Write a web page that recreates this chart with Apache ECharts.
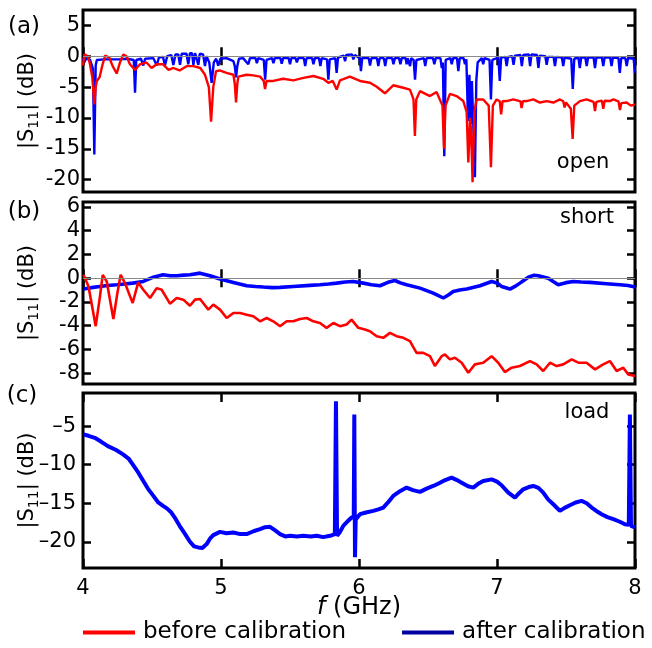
<!DOCTYPE html>
<html><head><meta charset="utf-8">
<script src="https://cdn.jsdelivr.net/npm/echarts@6/dist/echarts.min.js"></script>
<style>html,body{margin:0;padding:0;background:#fff}#c{width:652px;height:648px}</style>
</head><body><div id="c"></div>
<script>
// ---- tick values ----
const xTicks = [4, 5, 6, 7, 8];
const yTicksA = [-20, -15, -10, -5, 0, 5];
const yTicksB = [-8, -6, -4, -2, 0, 2, 4, 6];
const yTicksC = [-20, -15, -10, -5];
const seriesNames = ['before calibration', 'after calibration'];
const panelLabels = ['(a)', '(b)', '(c)'];
const standardNames = ['open', 'short', 'load'];

// ---- (a) open: [f GHz, |S11| dB] ----
const openBefore = [[4.000,-1.5],[4.010,0.3],[4.020,0.6],[4.035,0.0],[4.050,-1.2],[4.068,-3.5],[4.082,-7.8],[4.092,-5.0],[4.100,-4.0],[4.120,-3.4],[4.140,-1.5],[4.160,0.1],[4.190,-0.2],[4.215,-1.6],[4.244,-2.8],[4.268,-1.0],[4.292,0.3],[4.315,0.0],[4.340,-1.3],[4.377,-2.2],[4.413,-1.3],[4.460,-1.0],[4.497,-1.9],[4.533,-1.3],[4.580,-1.3],[4.620,-2.2],[4.655,-1.9],[4.700,-2.3],[4.750,-1.6],[4.800,-1.6],[4.850,-1.9],[4.884,-3.0],[4.912,-5.0],[4.928,-10.6],[4.944,-5.0],[4.964,-2.4],[4.990,-2.3],[5.040,-2.7],[5.090,-3.0],[5.100,-4.5],[5.109,-7.5],[5.118,-4.5],[5.126,-3.3],[5.186,-3.0],[5.234,-3.1],[5.283,-3.3],[5.310,-4.0],[5.319,-5.3],[5.330,-4.0],[5.343,-3.8],[5.380,-4.0],[5.450,-3.65],[5.524,-3.9],[5.597,-3.5],[5.670,-3.2],[5.740,-3.65],[5.778,-4.3],[5.810,-4.0],[5.838,-5.4],[5.862,-3.9],[5.934,-3.3],[6.007,-4.0],[6.080,-4.3],[6.128,-4.95],[6.188,-6.0],[6.248,-4.7],[6.320,-5.1],[6.369,-5.4],[6.395,-7.0],[6.405,-12.9],[6.415,-7.0],[6.442,-5.65],[6.514,-6.45],[6.562,-5.8],[6.605,-8.0],[6.616,-15.0],[6.627,-8.0],[6.659,-6.1],[6.707,-6.45],[6.756,-7.26],[6.780,-9.0],[6.792,-17.2],[6.805,-10.0],[6.812,-12.0],[6.823,-20.4],[6.836,-9.0],[6.852,-7.0],[6.900,-7.0],[6.940,-8.0],[6.956,-18.0],[6.970,-8.0],[6.997,-7.0],[7.020,-7.3],[7.030,-9.4],[7.040,-7.3],[7.070,-7.26],[7.118,-7.0],[7.170,-7.3],[7.178,-8.4],[7.188,-7.3],[7.215,-7.26],[7.263,-7.0],[7.311,-7.5],[7.360,-7.26],[7.408,-7.5],[7.456,-7.0],[7.480,-7.3],[7.490,-8.3],[7.500,-7.5],[7.535,-8.5],[7.548,-13.4],[7.560,-8.0],[7.601,-7.26],[7.649,-7.0],[7.700,-7.4],[7.710,-8.9],[7.720,-7.4],[7.760,-7.2],[7.770,-8.5],[7.780,-7.2],[7.818,-7.26],[7.843,-7.0],[7.880,-7.3],[7.891,-8.7],[7.900,-7.6],[7.939,-7.5],[7.970,-8.0],[8.000,-7.8]];
const openAfter = [[4.000,-0.3],[4.010,-1.0],[4.020,-0.4],[4.050,-0.5],[4.072,-2.0],[4.082,-15.9],[4.092,-1.5],[4.100,-0.6],[4.150,-0.5],[4.200,-0.5],[4.260,-0.5],[4.320,-0.4],[4.368,-0.6],[4.377,-5.9],[4.386,-0.6],[4.420,-0.4],[4.437,-1.5],[4.450,-0.4],[4.510,-0.3],[4.534,-1.5],[4.550,-0.2],[4.580,-0.1],[4.594,-1.5],[4.610,0.0],[4.640,0.2],[4.655,-1.4],[4.670,0.3],[4.690,0.3],[4.703,-1.4],[4.715,0.4],[4.750,0.4],[4.763,-1.3],[4.775,0.5],[4.790,0.5],[4.800,-1.4],[4.812,0.5],[4.826,0.5],[4.836,-1.4],[4.846,0.4],[4.870,0.3],[4.884,-1.6],[4.895,0.0],[4.915,-1.0],[4.932,-4.3],[4.948,-1.0],[4.965,-0.4],[4.980,-1.5],[4.995,-0.4],[5.040,-0.3],[5.090,-0.8],[5.100,-1.6],[5.109,-3.4],[5.118,-1.6],[5.130,-0.4],[5.160,-0.3],[5.198,-1.3],[5.210,-0.3],[5.250,-0.3],[5.260,-1.1],[5.270,-0.3],[5.310,-0.6],[5.320,-3.8],[5.330,-0.6],[5.370,-0.3],[5.380,-1.1],[5.390,-0.3],[5.430,-0.3],[5.440,-1.2],[5.450,-0.3],[5.490,-0.3],[5.500,-1.3],[5.510,-0.3],[5.540,-0.3],[5.550,-1.0],[5.560,-0.3],[5.600,-0.3],[5.610,-1.6],[5.620,-0.3],[5.660,-0.3],[5.670,-1.3],[5.680,-0.3],[5.710,-0.3],[5.720,-1.6],[5.730,-0.3],[5.768,-0.5],[5.778,-3.8],[5.788,-0.5],[5.828,-0.3],[5.838,-2.7],[5.848,-0.2],[5.890,0.1],[5.899,-0.8],[5.908,0.2],[5.950,0.3],[5.959,-0.5],[5.970,0.2],[6.005,-0.3],[6.014,-2.4],[6.023,-0.3],[6.070,-0.3],[6.080,-1.5],[6.090,-0.3],[6.130,-0.3],[6.140,-1.6],[6.150,-0.3],[6.180,-0.3],[6.190,-1.6],[6.200,-0.3],[6.240,-0.3],[6.250,-1.3],[6.260,-0.3],[6.290,-0.3],[6.300,-1.3],[6.310,-0.3],[6.338,-0.3],[6.345,-1.3],[6.352,-0.3],[6.363,-0.3],[6.370,-1.6],[6.378,-0.3],[6.396,-0.6],[6.406,-3.8],[6.416,-0.6],[6.470,-0.3],[6.480,-1.6],[6.490,-0.3],[6.536,-0.3],[6.546,-1.3],[6.556,-0.3],[6.590,-0.3],[6.600,-1.9],[6.608,-1.0],[6.618,-16.2],[6.628,-0.6],[6.662,-0.3],[6.672,-1.3],[6.682,-0.3],[6.710,-0.3],[6.720,-2.4],[6.730,-0.3],[6.758,-0.3],[6.768,-1.3],[6.778,-0.5],[6.790,-10.5],[6.800,-3.0],[6.810,-11.0],[6.818,-4.0],[6.828,-11.0],[6.840,-19.6],[6.850,-4.0],[6.860,-1.0],[6.890,-0.3],[6.900,-1.3],[6.910,-0.3],[6.946,-0.6],[6.956,-7.0],[6.966,-0.6],[7.010,-0.2],[7.020,-4.0],[7.030,-0.2],[7.060,-0.1],[7.070,-1.6],[7.080,-0.1],[7.110,0.0],[7.120,-1.4],[7.130,0.1],[7.170,0.2],[7.180,-1.6],[7.190,0.2],[7.230,0.3],[7.240,-1.6],[7.250,0.3],[7.290,0.2],[7.300,-1.9],[7.310,0.1],[7.350,0.0],[7.360,-1.4],[7.370,-0.1],[7.410,-0.1],[7.420,-1.6],[7.430,-0.1],[7.470,-0.2],[7.480,-1.6],[7.490,-0.2],[7.538,-0.4],[7.549,-5.3],[7.560,-0.4],[7.590,-0.2],[7.600,-1.9],[7.610,-0.2],[7.640,-0.2],[7.650,-1.6],[7.660,-0.2],[7.700,-0.2],[7.710,-1.9],[7.720,-0.2],[7.760,-0.2],[7.770,-1.6],[7.780,-0.2],[7.820,-0.2],[7.830,-1.6],[7.840,-0.2],[7.880,-0.3],[7.890,-2.7],[7.900,-0.3],[7.930,-0.3],[7.940,-1.6],[7.950,-0.3],[7.990,-0.4],[8.000,-2.7]];

// ---- (b) short ----
const shortBefore = [[4.004,0.28],[4.040,-0.7],[4.092,-4.04],[4.123,-1.53],[4.143,0.28],[4.172,-0.28],[4.220,-3.43],[4.249,-1.26],[4.273,0.28],[4.304,-0.42],[4.360,-2.09],[4.400,-0.36],[4.437,-0.98],[4.486,-1.67],[4.534,-0.84],[4.570,-0.98],[4.630,-2.15],[4.679,-1.67],[4.727,-1.81],[4.775,-2.32],[4.812,-1.81],[4.848,-1.76],[4.908,-2.65],[4.944,-2.23],[4.993,-2.65],[5.041,-3.35],[5.090,-2.93],[5.138,-2.93],[5.186,-3.07],[5.234,-3.21],[5.283,-3.63],[5.331,-3.35],[5.379,-3.63],[5.428,-4.04],[5.476,-3.63],[5.524,-3.63],[5.572,-3.43],[5.621,-3.35],[5.669,-3.63],[5.717,-3.77],[5.765,-4.18],[5.814,-3.77],[5.862,-4.04],[5.910,-3.9],[5.946,-3.49],[5.995,-4.18],[6.043,-4.32],[6.079,-4.46],[6.128,-4.88],[6.176,-5.02],[6.224,-4.6],[6.273,-4.88],[6.321,-5.02],[6.369,-5.3],[6.417,-6.28],[6.466,-6.28],[6.514,-6.56],[6.550,-7.39],[6.599,-6.56],[6.623,-6.42],[6.659,-6.83],[6.695,-6.69],[6.744,-7.11],[6.792,-7.95],[6.840,-7.25],[6.900,-7.11],[6.961,-6.56],[7.009,-7.11],[7.057,-7.9],[7.106,-7.53],[7.166,-7.39],[7.239,-6.97],[7.287,-7.25],[7.335,-7.81],[7.384,-7.11],[7.432,-7.39],[7.480,-7.25],[7.541,-6.83],[7.589,-7.11],[7.649,-7.11],[7.710,-7.67],[7.770,-7.25],[7.818,-6.97],[7.867,-7.81],[7.915,-7.53],[7.951,-8.09],[8.000,-8.23]];
const shortAfter = [[4.004,-0.92],[4.060,-0.8],[4.123,-0.7],[4.180,-0.62],[4.244,-0.56],[4.300,-0.5],[4.360,-0.42],[4.437,-0.28],[4.510,0.08],[4.580,0.28],[4.630,0.2],[4.680,0.2],[4.730,0.25],[4.775,0.28],[4.848,0.42],[4.920,0.2],[4.993,-0.08],[5.090,-0.36],[5.186,-0.64],[5.250,-0.7],[5.307,-0.75],[5.370,-0.8],[5.428,-0.78],[5.524,-0.7],[5.645,-0.61],[5.717,-0.56],[5.780,-0.5],[5.838,-0.42],[5.900,-0.32],[5.958,-0.28],[6.031,-0.42],[6.090,-0.55],[6.152,-0.64],[6.210,-0.35],[6.260,-0.2],[6.300,-0.4],[6.345,-0.56],[6.442,-0.84],[6.538,-1.26],[6.611,-1.67],[6.650,-1.4],[6.683,-1.12],[6.730,-1.0],[6.780,-0.92],[6.877,-0.64],[6.961,-0.28],[7.000,-0.4],[7.033,-0.7],[7.094,-0.92],[7.130,-0.7],[7.166,-0.42],[7.227,0.08],[7.270,0.25],[7.299,0.2],[7.371,0.0],[7.410,-0.3],[7.444,-0.56],[7.500,-0.38],[7.553,-0.28],[7.610,-0.32],[7.674,-0.36],[7.794,-0.47],[7.891,-0.56],[7.950,-0.62],[8.000,-0.75]];

// ---- (c) load ----
const loadAfter = [[4.004,-6.08],[4.040,-6.25],[4.085,-6.51],[4.130,-7.0],[4.180,-7.59],[4.240,-8.1],[4.290,-8.66],[4.330,-9.2],[4.360,-9.96],[4.400,-11.0],[4.437,-12.11],[4.470,-13.1],[4.510,-14.05],[4.545,-14.9],[4.580,-15.34],[4.610,-15.7],[4.640,-16.21],[4.670,-17.0],[4.700,-17.93],[4.740,-19.0],[4.775,-20.0],[4.805,-20.6],[4.835,-20.73],[4.865,-20.8],[4.896,-20.3],[4.920,-19.6],[4.944,-19.14],[4.993,-18.71],[5.040,-18.9],[5.090,-18.79],[5.140,-19.0],[5.186,-19.0],[5.240,-18.6],[5.283,-18.36],[5.320,-18.1],[5.355,-18.06],[5.390,-18.5],[5.428,-19.0],[5.465,-19.3],[5.500,-19.22],[5.550,-19.3],[5.597,-19.22],[5.650,-19.3],[5.694,-19.22],[5.740,-19.4],[5.790,-19.22],[5.825,-19.0],[5.833,-1.77],[5.841,-19.2],[5.860,-18.8],[5.886,-17.93],[5.920,-17.3],[5.946,-16.85],[5.962,-16.8],[5.966,-3.49],[5.971,-22.0],[5.976,-17.1],[6.007,-16.42],[6.050,-16.2],[6.103,-15.99],[6.140,-15.8],[6.176,-15.56],[6.210,-14.9],[6.248,-14.05],[6.300,-13.4],[6.345,-12.97],[6.390,-13.3],[6.442,-13.53],[6.490,-13.1],[6.538,-12.76],[6.580,-12.4],[6.611,-12.11],[6.671,-11.68],[6.710,-12.0],[6.744,-12.33],[6.790,-12.8],[6.828,-12.97],[6.870,-12.4],[6.900,-12.11],[6.961,-11.9],[7.000,-12.2],[7.033,-12.67],[7.080,-13.6],[7.130,-14.27],[7.160,-13.7],[7.190,-13.19],[7.230,-12.9],[7.263,-12.76],[7.300,-13.0],[7.335,-13.62],[7.370,-14.5],[7.408,-15.13],[7.456,-15.99],[7.490,-15.6],[7.528,-15.26],[7.570,-14.9],[7.613,-14.7],[7.650,-15.0],[7.686,-15.56],[7.720,-16.0],[7.758,-16.42],[7.800,-16.8],[7.843,-17.07],[7.890,-17.4],[7.927,-17.72],[7.955,-17.8],[7.963,-3.49],[7.971,-17.93],[8.000,-18.15]];

const FONT = 'DejaVu Sans';
const RED = '#ff0000', BLUE = '#0000ff', LEG_BLUE = '#0000a0';

const grids = [
  {left: 83, top: 10, width: 552, height: 182},
  {left: 83, top: 202, width: 552, height: 182},
  {left: 83, top: 393, width: 552, height: 175}
].map(g => Object.assign(g, {show: true, borderColor: '#000', borderWidth: 3,
  backgroundColor: 'rgba(0,0,0,0)', containLabel: false, outerBoundsMode: 'none'}));

const tickStyle = {inside: true, length: 9, lineStyle: {color: '#000', width: 2.5}};
const xAxes = [];
for (let i = 0; i < 3; i++) {
  xAxes.push({
    type: 'value', gridIndex: i, min: xTicks[0], max: xTicks[xTicks.length - 1], interval: 1, position: 'bottom',
    axisLine: {show: false}, splitLine: {show: false}, axisTick: tickStyle,
    axisLabel: {show: i === 2, color: '#000', fontFamily: FONT, fontSize: 21, margin: 10},
    name: i === 2 ? '{i|f} (GHz)' : '', nameLocation: 'middle', nameGap: 28, nameMoveOverlap: false,
    nameTextStyle: {color: '#000', fontFamily: FONT, fontSize: 24,
      rich: {i: {fontStyle: 'italic', fontFamily: FONT, fontSize: 24, color: '#000'}}}
  });
  xAxes.push({
    type: 'value', gridIndex: i, min: xTicks[0], max: xTicks[xTicks.length - 1], interval: 1, position: 'top',
    axisLine: {show: false}, splitLine: {show: false}, axisTick: tickStyle, axisLabel: {show: false}
  });
}
const yRanges = [[-22, 7.5, yTicksA], [-8.9, 6.4, yTicksB], [-23.4, -0.7, yTicksC]];
const yAxes = [];
yRanges.forEach((r, i) => {
  yAxes.push({
    type: 'value', gridIndex: i, min: r[0], max: r[1], position: 'left',
    axisLine: {show: false}, splitLine: {show: false},
    axisTick: Object.assign({customValues: r[2]}, tickStyle, {length: 8}),
    axisLabel: {customValues: r[2], color: '#000', fontFamily: FONT, fontSize: 21, margin: i === 2 ? 7 : 3,
      formatter: v => i === 2 ? (v < 0 ? '\u2013' + Math.abs(v) : String(v)) : String(v)},
    name: '|S{s|11}| (dB)', nameLocation: 'middle', nameGap: 42, nameRotate: 90, nameMoveOverlap: false,
    nameTextStyle: {color: '#000', fontFamily: FONT, fontSize: 21, lineHeight: 27,
      rich: {s: {fontSize: 14, fontFamily: FONT, color: '#000', verticalAlign: 'bottom'}}}
  });
  yAxes.push({
    type: 'value', gridIndex: i, min: r[0], max: r[1], position: 'right',
    axisLine: {show: false}, splitLine: {show: false},
    axisTick: Object.assign({customValues: r[2]}, tickStyle, {length: 8}),
    axisLabel: {show: false}
  });
});

const zeroLine = {silent: true, symbol: ['none', 'none'], label: {show: false},
  lineStyle: {color: '#8a8a8a', width: 1.2, type: 'solid'}, data: [{yAxis: 0}]};

function line(name, data, xi, yi, color, w, extra) {
  return Object.assign({type: 'line', name, data, xAxisIndex: xi, yAxisIndex: yi, showSymbol: false,
    symbol: 'none', lineStyle: {color, width: w}, itemStyle: {color}, emphasis: {disabled: true}}, extra || {});
}

const series = [
  line(seriesNames[1], openAfter, 0, 0, BLUE, 2.4, {markLine: zeroLine}),
  line(seriesNames[0], openBefore, 0, 0, RED, 2.4),
  line(seriesNames[1], shortAfter, 2, 2, BLUE, 3.6, {markLine: zeroLine}),
  line(seriesNames[0], shortBefore, 2, 2, RED, 2.6),
  line(seriesNames[1], loadAfter, 4, 4, BLUE, 4)
];

const txt = (t, x, y, size) => ({type: 'text', x, y, z: 100,
  style: {text: t, fill: '#000', fontFamily: FONT, fontSize: size, align: 'center', verticalAlign: 'middle'}});

const chart = echarts.init(document.getElementById('c'), null, {renderer: 'canvas'});
chart.setOption({
  animation: false,
  backgroundColor: '#fff',
  grid: grids,
  xAxis: xAxes,
  yAxis: yAxes,
  series,
  legend: {
    left: 83, top: 621, width: 640, padding: 0, itemWidth: 52, itemHeight: 4, itemGap: 56,
    textStyle: {fontFamily: FONT, fontSize: 23, color: '#000', padding: [0, 0, 0, 3]},
    data: [
      {name: seriesNames[0], icon: 'rect', itemStyle: {color: RED}, lineStyle: {color: RED, width: 4}},
      {name: seriesNames[1], icon: 'rect', itemStyle: {color: LEG_BLUE}, lineStyle: {color: LEG_BLUE, width: 4}}
    ]
  },
  graphic: [
    txt(panelLabels[0], 24, 27, 23), txt(panelLabels[1], 24, 212, 23), txt(panelLabels[2], 22, 396, 23),
    txt(standardNames[0], 583, 163, 21), txt(standardNames[1], 587, 218, 21), txt(standardNames[2], 587, 413, 21)
  ]
});
</script></body></html>
